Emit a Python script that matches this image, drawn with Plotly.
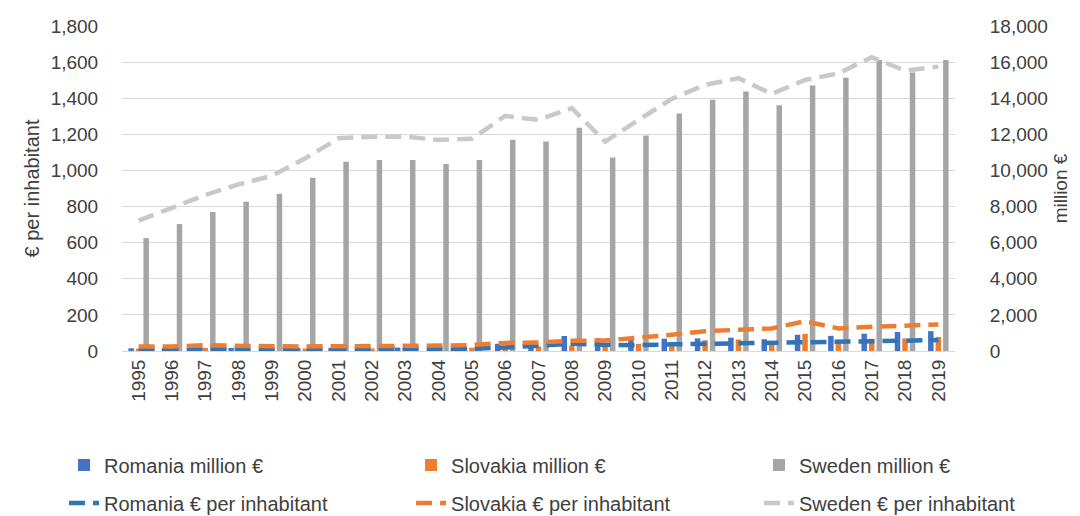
import plotly.graph_objects as go

years = ["1995", "1996", "1997", "1998", "1999", "2000", "2001", "2002", "2003",
         "2004", "2005", "2006", "2007", "2008", "2009", "2010", "2011", "2012",
         "2013", "2014", "2015", "2016", "2017", "2018", "2019"]

# million € (right axis, bars)
romania_meur = [150, 150, 160, 170, 150, 160, 170, 180, 190, 220, 260, 400, 450, 830,
                700, 650, 680, 700, 740, 650, 900, 840, 960, 1050, 1100]
slovakia_meur = [130, 130, 170, 170, 140, 135, 135, 140, 150, 165, 180, 245, 255, 310,
                 315, 395, 485, 595, 640, 560, 950, 560, 680, 700, 780]
sweden_meur = [6250, 7030, 7700, 8270, 8710, 9600, 10480, 10580, 10580, 10360, 10580,
               11700, 11600, 12370, 10710, 11930, 13150, 13920, 14370, 13610, 14700,
               15140, 16120, 15420, 16120]

# € per inhabitant (left axis, dashed lines)
romania_pc = [7, 7, 7, 7, 7, 7, 8, 8, 9, 10, 12, 19, 27, 40, 35, 32, 37, 39, 41, 43,
              51, 51, 52, 57, 61]
slovakia_pc = [25, 25, 32, 32, 26, 25, 25, 26, 28, 30, 33, 45, 47, 57, 58, 73, 90, 110,
               118, 125, 165, 125, 134, 138, 147]
sweden_pc = [722, 790, 864, 923, 970, 1067, 1178, 1187, 1187, 1169, 1175, 1302, 1280,
             1345, 1160, 1280, 1396, 1474, 1511, 1424, 1501, 1538, 1627, 1553, 1575]

left_ticks = [0, 200, 400, 600, 800, 1000, 1200, 1400, 1600, 1800]
right_ticks = [0, 2000, 4000, 6000, 8000, 10000, 12000, 14000, 16000, 18000]

TICK_FONT = dict(family="Liberation Sans, Arial, sans-serif", size=19, color="#404040")
LEG_FONT = dict(family="Liberation Sans, Arial, sans-serif", size=20, color="#404040")
DASH = "16px,8px"

# legend slots (container fractions): columns and rows
leg_cols = [0.0593, 0.3806, 0.7028]
leg_rows = [0.0988, 0.0252]

fig = go.Figure()

bar_specs = [("Romania million €", romania_meur, "#4472C4"),
             ("Slovakia million €", slovakia_meur, "#ED7D31"),
             ("Sweden million €", sweden_meur, "#A5A5A5")]
line_specs = [("Romania € per inhabitant", romania_pc, "#2E75B6"),
              ("Slovakia € per inhabitant", slovakia_pc, "#ED7D31"),
              ("Sweden € per inhabitant", sweden_pc, "#C9C9C9")]

legend_ids = ["legend", "legend2", "legend3", "legend4", "legend5", "legend6"]

for i, (name, vals, col) in enumerate(bar_specs):
    fig.add_trace(go.Bar(x=years, y=vals, name=name, marker=dict(color=col, line=dict(width=0)),
                         yaxis="y", legend=legend_ids[i], showlegend=True))

for i, (name, vals, col) in enumerate(line_specs):
    fig.add_trace(go.Scatter(x=years, y=vals, name=name, mode="lines",
                             line=dict(color=col, width=4.5, dash=DASH),
                             yaxis="y2", legend=legend_ids[3 + i], showlegend=True))

legend_layout = {}
for r in range(2):
    for c in range(3):
        legend_layout[legend_ids[r * 3 + c]] = dict(
            visible=True, orientation="h", xref="container", yref="container",
            x=leg_cols[c], xanchor="left", y=leg_rows[r], yanchor="middle",
            font=LEG_FONT, bgcolor="rgba(0,0,0,0)")

fig.update_layout(
    width=1080, height=516,
    showlegend=True,
    margin=dict(l=122, r=125, t=26, b=165, autoexpand=False),
    paper_bgcolor="white", plot_bgcolor="white",
    barmode="group", bargap=0.324, bargroupgap=0.27,
    xaxis=dict(type="category", range=[-0.5, 24.5], tickangle=-90, tickfont=TICK_FONT,
               showgrid=False, showline=True, linecolor="#D9D9D9", linewidth=1,
               ticks="", fixedrange=True, automargin=False),
    yaxis=dict(side="right", range=[0, 18000], tickvals=right_ticks, tickformat=",",
               tickfont=TICK_FONT, showgrid=True, gridcolor="#D9D9D9", gridwidth=1,
               zeroline=False, ticks="outside", ticklen=30, tickcolor="rgba(0,0,0,0)",
               automargin=False,
               title=dict(text="million €", font=TICK_FONT, standoff=6)),
    yaxis2=dict(side="left", overlaying="y", range=[0, 1800], tickvals=left_ticks,
                tickformat=",", tickfont=TICK_FONT, showgrid=False, zeroline=False,
                ticks="outside", ticklen=19, tickcolor="rgba(0,0,0,0)", automargin=False,
                title=dict(text="€ per inhabitant", font=dict(TICK_FONT, size=20), standoff=5)),
    **legend_layout,
)

fig.write_html("out.html", config={"displayModeBar": False})

with open("out.html", "r", encoding="utf-8") as f:
    html = f.read()
html = html.replace("<body>", "<body style=\"margin:0;padding:0;overflow:hidden\">", 1)
with open("out.html", "w", encoding="utf-8") as f:
    f.write(html)
